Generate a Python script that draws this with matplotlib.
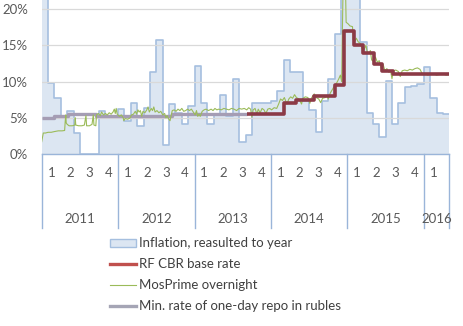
import matplotlib
matplotlib.use("Agg")
import matplotlib.pyplot as plt
from matplotlib.lines import Line2D
from matplotlib.patches import Rectangle
import numpy as np

plt.rcParams['font.family'] = ['Lato', 'DejaVu Sans']

# ---- data (x in months since Jan 2011) ----
years = ["2011", "2012", "2013", "2014", "2015", "2016"]
quarter_labels = ["1", "2", "3", "4"]
y_ticks = [0, 5, 10, 15, 20]
y_tick_labels = ["0%", "5%", "10%", "15%", "20%"]

# monthly inflation, annualised (%), Jan 2011 .. Apr 2016
inflation = [
    30.0, 9.75, 7.7, 5.1, 5.9, 2.85, 0.0, 0.0, 0.0, 5.9, 5.1, 5.1,
    6.2, 4.5, 7.1, 3.9, 6.4, 11.3, 15.8, 1.25, 6.85, 5.6, 4.1, 6.6,
    12.2, 7.0, 4.1, 5.4, 8.2, 5.2, 10.3, 1.7, 2.6, 7.0, 7.0, 7.0,
    7.3, 8.7, 13.0, 11.3, 11.3, 7.3, 6.1, 3.1, 7.3, 10.3, 16.6, 36.0,
    58.0, 30.0, 15.5, 5.6, 4.2, 2.4, 10.1, 4.2, 7.0, 9.2, 9.4, 9.65,
    12.0, 7.8, 5.6, 5.5,
]

# minimum one-day repo rate: change dates (months) and levels
repo_dates = [0.0, 1.9, 4.1, 8.55, 20.45, 32.3]
repo_rates = [5.0, 5.25, 5.5, 5.25, 5.5, 5.5]

# CBR key rate: change dates (months) and levels
key_dates = [32.2, 38.05, 39.9, 42.8, 46.1, 47.5, 49.0, 50.5, 52.1, 53.5, 55.1, 64.0]
key_rates = [5.5, 7.0, 7.5, 8.0, 9.5, 17.0, 15.0, 14.0, 12.5, 11.5, 11.0, 11.0]

# MosPrime overnight
mos_dates = [
    0.0, 0.25, 0.6, 1.0, 1.5, 2.0, 2.6, 3.2, 3.6, 3.7, 3.78, 3.85, 4.0, 4.3, 4.8,
    5.2, 5.27, 5.35, 5.8, 6.3, 6.7, 6.95, 7.05, 7.5, 7.9, 8.1, 8.2, 8.5, 8.6, 8.9,
    9.2, 9.4, 9.7, 10.0, 10.3, 10.6, 10.9, 11.2, 11.4, 11.55, 11.7, 11.85, 12.2, 12.5,
    12.8, 12.9, 13.1, 13.5, 13.9, 14.1, 14.4, 14.7, 14.9, 15.1, 15.3, 15.5, 15.7,
    15.9, 16.2, 16.5, 16.7, 16.9, 17.2, 17.4, 17.6, 17.8, 18.1, 18.4, 18.7, 19.0,
    19.3, 19.5, 19.7, 19.9, 20.15, 20.3, 20.5, 20.8, 21.1, 21.4, 21.7, 22.0, 22.3,
    22.6, 22.9, 23.2, 23.5, 23.8, 24.1, 24.3, 24.5, 24.7, 24.9, 25.2, 25.5, 25.8,
    26.2, 26.6, 26.9, 27.2, 27.5, 27.8, 28.2, 28.6, 29.0, 29.4, 29.8, 30.2, 30.6,
    31.0, 31.4, 31.8, 32.2, 32.5, 32.8, 33.0, 33.2, 33.5, 33.8, 34.0, 34.3, 34.6,
    34.9, 35.2, 35.5, 35.8, 36.1, 36.5, 36.9, 37.2, 37.5, 37.8, 38.1, 38.5, 38.8,
    39.1, 39.4, 39.7, 40.0, 40.4, 40.8, 41.0, 41.4, 41.8, 42.1, 42.4, 42.8, 43.1,
    43.5, 43.8, 44.1, 44.5, 44.8, 45.0, 45.3, 45.7, 46.0, 46.3, 46.6, 46.9, 47.1,
    47.3, 47.6, 47.8, 48.1, 48.4, 48.8, 48.9, 49.2, 49.4, 49.7, 50.0, 50.3, 50.6,
    50.9, 51.1, 51.4, 51.6, 51.8, 52.1, 52.4, 52.7, 53.0, 53.3, 53.6, 53.9, 54.2,
    54.5, 54.8, 55.0, 55.2, 55.6, 56.0, 56.3, 56.6, 57.0, 57.4, 57.8, 58.2, 58.6,
    59.0, 59.4, 59.8, 60.2, 60.6, 61.0, 61.5, 62.0, 62.5, 63.0, 63.5, 64.0,
]
mos_rates = [
    1.7, 2.9, 2.9, 3.0, 3.0, 3.1, 3.2, 3.2, 3.25, 4.6, 5.4, 4.3, 4.1, 3.9, 3.9,
    4.0, 5.0, 4.0, 3.9, 3.9, 4.0, 5.3, 3.9, 3.9, 4.1, 5.4, 4.0, 3.9, 5.4, 5.6,
    5.3, 5.8, 5.4, 5.6, 5.4, 5.7, 5.5, 5.8, 6.2, 5.6, 6.3, 5.5, 5.2, 5.4,
    5.0, 4.6, 4.9, 4.8, 5.0, 5.4, 5.5, 5.9, 5.5, 6.1, 5.8, 6.0, 5.2,
    5.9, 5.7, 6.1, 6.5, 5.8, 6.3, 6.0, 6.5, 5.8, 6.0, 5.7, 5.9, 5.4,
    5.6, 5.0, 5.3, 4.9, 4.6, 5.2, 6.0, 6.1, 5.9, 6.2, 6.0, 6.3, 5.9,
    6.0, 6.2, 6.0, 6.2, 5.8, 5.4, 6.0, 5.2, 5.5, 5.2, 5.9, 6.1, 6.2,
    6.0, 6.2, 6.0, 6.3, 6.1, 6.2, 6.1, 6.3, 6.2, 6.1, 6.3, 6.2, 6.0,
    6.3, 6.2, 6.3, 6.1, 6.4, 6.2, 5.1, 6.1, 6.3, 5.5, 6.2, 5.7, 6.3,
    6.1, 5.6, 6.2, 6.3, 6.1, 6.4, 6.3, 6.9, 7.6, 7.4, 7.8, 6.9, 7.6,
    7.9, 7.7, 8.2, 7.8, 7.6, 6.9, 7.7, 7.9, 7.8, 7.0, 7.8, 8.3, 7.8,
    7.6, 7.1, 7.7, 7.8, 8.0, 7.6, 8.4, 9.0, 9.5, 9.8, 10.3, 10.9, 10.0,
    22.0, 28.0, 18.2, 18.0, 17.7, 17.6, 15.8, 15.6, 16.0, 15.5, 15.3, 14.6, 14.4,
    15.0, 14.2, 13.9, 14.3, 13.0, 12.8, 13.4, 12.7, 12.9, 11.9, 12.4, 11.5, 11.8,
    11.3, 11.4, 10.4, 11.5, 11.6, 11.4, 10.7, 11.5, 11.6, 11.5, 11.7, 11.6, 11.8,
    11.9, 11.7, 11.0, 11.1, 10.9, 11.0, 11.1, 10.9, 11.0, 11.1, 10.9, 11.0,
]

# ---- figure ----
W, H = 463, 326
fig = plt.figure(figsize=(W / 100, H / 100), dpi=100)
x0, x1, ytop, ybot = 41.7, 449.3, 0.0, 154.0
ax = fig.add_axes([x0 / W, 1 - ybot / H, (x1 - x0) / W, (ybot - ytop) / H])

n_months = len(inflation)
edges = np.arange(n_months + 1)
infl_steps = inflation + [inflation[-1]]
ax.fill_between(edges, 0, infl_steps, step='post', facecolor='#dce6f2',
                edgecolor='none', zorder=1)
ax.step(edges, infl_steps, where='post', color='#a5bfdf', lw=1.2, zorder=1.5)

ax.step(repo_dates + [repo_dates[-1] + 0.01], repo_rates + [repo_rates[-1]],
        where='post', color='#a59db4', lw=2.4, zorder=3, solid_capstyle='butt')
ax.plot(mos_dates, mos_rates, color='#9bbb59', lw=0.8, zorder=4)
ax.step(key_dates, key_rates, where='post', color='#8c3a46', lw=2.6, zorder=5,
        solid_capstyle='butt')

ax.set_xlim(0, n_months)
ylim_top = 20 + 9.3 / 7.25
ax.set_ylim(0, ylim_top)
ax.set_yticks(y_ticks)
ax.set_yticklabels(y_tick_labels)
ax.tick_params(axis='y', length=0, pad=9.8, labelsize=9.5, labelcolor='#595959')
ax.set_xticks([])
ax.grid(axis='y', color='#d9d9d9', lw=0.9)
ax.set_axisbelow(False)
for s in ['top', 'right', 'left']:
    ax.spines[s].set_visible(False)
ax.spines['bottom'].set_color('#9ab5d9')
ax.spines['bottom'].set_linewidth(1.0)
ax.spines['bottom'].set_zorder(6)
for gl in ax.yaxis.get_gridlines():
    gl.set_zorder(2)

# category axis labels
trans = ax.get_xaxis_transform()
q_y = (ybot - 172.7) / (ybot - ytop)
yr_y = (ybot - 219.3) / (ybot - ytop)
sep_y = (ybot - 228.0) / (ybot - ytop)
for i, yr in enumerate(years):
    start = 12 * i
    end = min(12 * (i + 1), n_months)
    nq = 4 if end - start == 12 else 1
    for q in range(nq):
        ax.text(start + 3 * q + 1.5, q_y, quarter_labels[q], transform=trans,
                ha='center', va='center', fontsize=9.5, color='#595959', clip_on=False)
    ax.text((start + end) / 2, yr_y, yr, transform=trans, ha='center', va='center',
            fontsize=9.5, color='#595959', clip_on=False)
for b in [0, 12, 24, 36, 48, 60, n_months]:
    ax.add_line(Line2D([b, b], [0, sep_y], transform=trans, color='#9ab5d9',
                       lw=1.0, clip_on=False))

# legend (manual)
def fx(x):
    return x / W

def fy(y):
    return 1 - y / H

hx0, hx1, tx = 110, 135.7, 139.3
rows = [243.3, 264.3, 285.0, 306.0]
labels = ["Inflation, reasulted to year", "RF CBR base rate",
          "MosPrime overnight", "Min. rate of one-day repo in rubles"]
fig.add_artist(Rectangle((fx(hx0), fy(246.7)), fx(hx1) - fx(hx0), fy(239.3) - fy(246.7),
                         transform=fig.transFigure, facecolor='#dce6f2',
                         edgecolor='#a5bfdf', lw=1.0))
fig.add_artist(Line2D([fx(hx0), fx(hx1)], [fy(rows[1])] * 2, transform=fig.transFigure,
                      color='#c0504d', lw=2.4))
fig.add_artist(Line2D([fx(hx0), fx(hx1)], [fy(rows[2])] * 2, transform=fig.transFigure,
                      color='#9bbb59', lw=0.8))
fig.add_artist(Line2D([fx(hx0), fx(hx1)], [fy(rows[3])] * 2, transform=fig.transFigure,
                      color='#a5a5b5', lw=2.4))
for r, lab in zip(rows, labels):
    fig.text(fx(tx), fy(r), lab, ha='left', va='center', fontsize=9.5, color='#404040')

fig.savefig("out.png", dpi=100)
